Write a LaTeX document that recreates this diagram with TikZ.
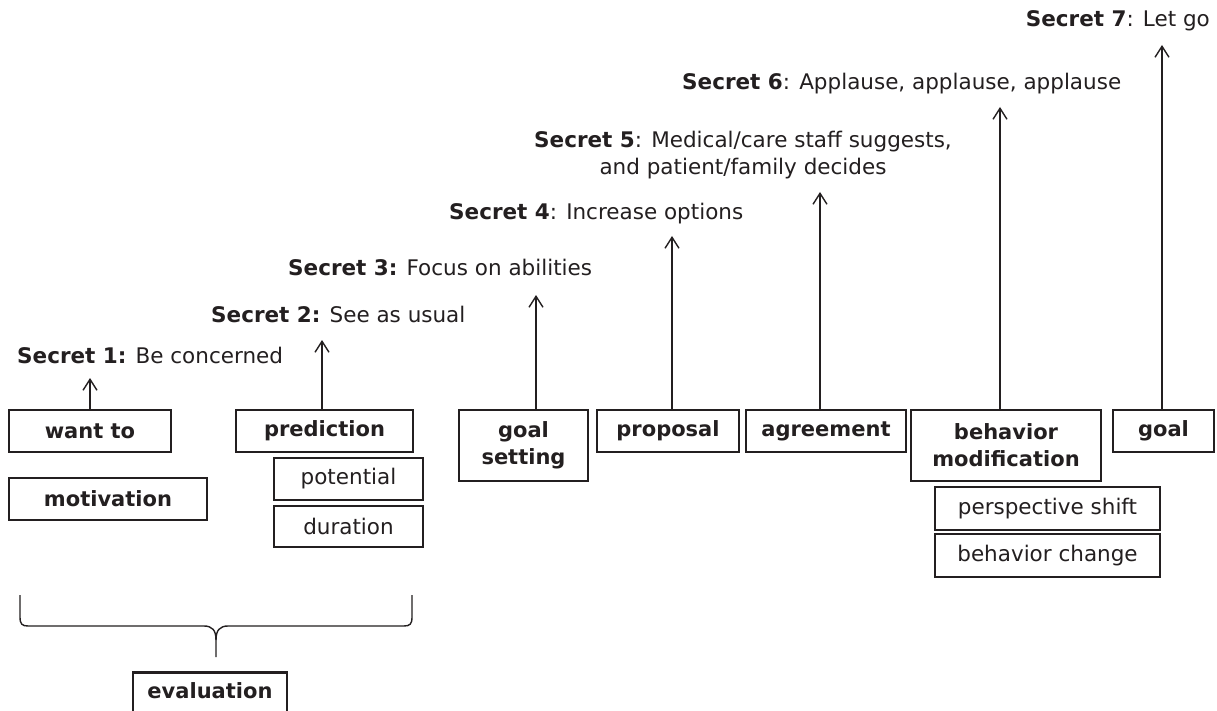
\documentclass[tikz,border=0pt]{standalone}
\usepackage{fontspec}
\setmainfont{DejaVu Sans}
\usetikzlibrary{arrows.meta}
\definecolor{txt}{HTML}{231F20}
\definecolor{ln}{HTML}{231F20}
\begin{document}
\begin{tikzpicture}[x=1pt,y=-1pt,
  every node/.style={font=\fontsize{21.5}{27}\selectfont, text=txt},
  bigbox/.style={draw=ln, line width=2.5pt, inner sep=0pt, align=center,
    font=\fontsize{21}{27}\selectfont\bfseries},
  subbox/.style={draw=ln, line width=1.2pt, inner sep=0pt, align=center},
  arr/.style={draw=ln, line width=1.4pt, -{Straight Barb[length=11pt,width=14pt]}},
  lab/.style={anchor=base west, inner sep=0pt},
  brace/.style={draw=ln, line width=1.4pt}
]
\clip (0,0) rectangle (1217,711);
\fill[white] (0,0) rectangle (1217,711);

% main boxes
\node[bigbox, minimum width=162pt, minimum height=42pt] (want) at (90,431) {want to};
\node[bigbox, minimum width=198pt, minimum height=42pt] (motiv) at (108,499) {motivation};
\node[bigbox, minimum width=177pt, minimum height=42pt] (pred) at (324.5,431) {prediction};
\node[subbox, minimum width=149pt, minimum height=42pt] (pot) at (348.5,479) {potential};
\node[subbox, minimum width=149pt, minimum height=41pt] (dur) at (348.5,526.5) {duration};
\node[bigbox, minimum width=129pt, minimum height=71pt] (gs) at (523.5,445.5) {goal\\setting};
\node[bigbox, minimum width=142pt, minimum height=42pt] (prop) at (668,431) {proposal};
\node[bigbox, minimum width=160pt, minimum height=42pt] (agr) at (826,431) {agreement};
\node[bigbox, minimum width=190pt, minimum height=71pt] (bm) at (1006,445.5) {behavior\\modification};
\node[bigbox, minimum width=101pt, minimum height=42pt] (goal) at (1163.5,431) {goal};
\node[subbox, minimum width=225pt, minimum height=43pt] (ps) at (1047.5,508.5) {perspective shift};
\node[subbox, minimum width=225pt, minimum height=43pt] (bc) at (1047.5,555.5) {behavior change};
\node[bigbox, anchor=north, minimum width=154pt, text height=26pt, text depth=30pt] (eval) at (210,671) {evaluation};

% labels
\node[lab] (s1) at (17,363) {\textbf{Secret 1:} Be concerned};
\node[lab] (s2) at (211,322) {\textbf{Secret 2:} See as usual};
\node[lab] (s3) at (288,275) {\textbf{Secret 3:} Focus on abilities};
\node[lab] (s4) at (449,220) {\textbf{Secret 4}: Increase options};
\node[anchor=base, inner sep=0pt, align=center] (s5) at (743,175) {\textbf{Secret 5}: Medical/care staff suggests,\\and patient/family decides};
\node[lab] (s6) at (682,90) {\textbf{Secret 6}: Applause, applause, applause};
\node[anchor=base east, inner sep=0pt] (s7) at (1210,27) {\textbf{Secret 7}: Let go};

% arrow targets
\coordinate (t1) at (90,378);
\coordinate (t2) at (322,340);
\coordinate (t3) at (536,295);
\coordinate (t4) at (672,236);
\coordinate (t5) at (820,192);
\coordinate (t6) at (1000,107);
\coordinate (t7) at (1162,45);

\draw[arr] (want.north -| t1) -- (t1);
\draw[arr] (pred.north -| t2) -- (t2);
\draw[arr] (gs.north -| t3) -- (t3);
\draw[arr] (prop.north -| t4) -- (t4);
\draw[arr] (agr.north -| t5) -- (t5);
\draw[arr] (bm.north -| t6) -- (t6);
\draw[arr] (goal.north -| t7) -- (t7);

% brace
\coordinate (bl) at (20,595);
\coordinate (br) at (412,595);
\coordinate (bt) at (216,657);
\draw[brace] (bl) -- (20,617) .. controls (20,624) and (22,626) .. (28,626)
  -- (204,626) .. controls (212,626) and (216,630) .. (216,640) -- (bt);
\draw[brace] (br) -- (412,617) .. controls (412,624) and (410,626) .. (404,626)
  -- (228,626) .. controls (220,626) and (216,630) .. (216,640);
\end{tikzpicture}
\end{document}
